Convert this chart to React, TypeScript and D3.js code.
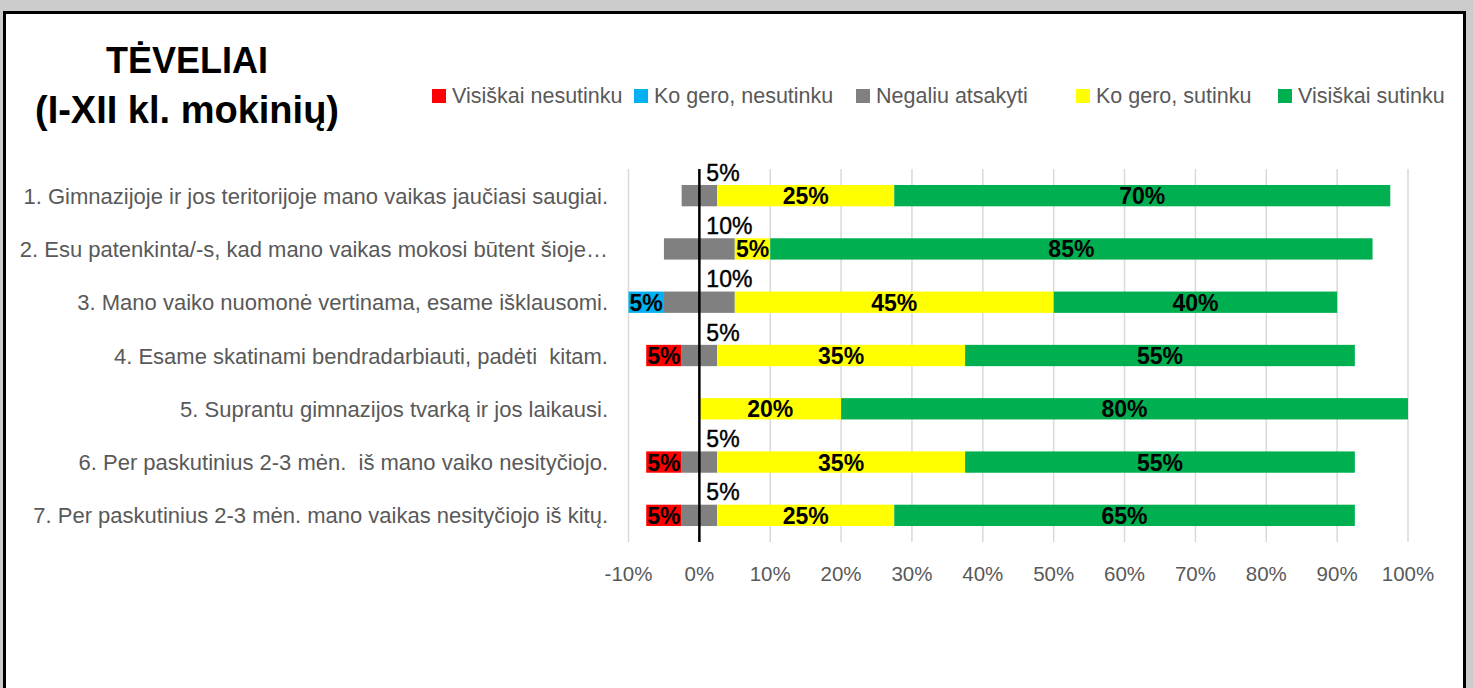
import React from "react";
import * as d3 from "d3";

const categories = [
  "1. Gimnazijoje ir jos teritorijoje mano vaikas jaučiasi saugiai.",
  "2. Esu patenkinta/-s, kad mano vaikas mokosi būtent šioje…",
  "3. Mano vaiko nuomonė vertinama, esame išklausomi.",
  "4. Esame skatinami bendradarbiauti, padėti  kitam.",
  "5. Suprantu gimnazijos tvarką ir jos laikausi.",
  "6. Per paskutinius 2-3 mėn.  iš mano vaiko nesityčiojo.",
  "7. Per paskutinius 2-3 mėn. mano vaikas nesityčiojo iš kitų.",
];

const seriesNames = [
  "Visiškai nesutinku",
  "Ko gero, nesutinku",
  "Negaliu atsakyti",
  "Ko gero, sutinku",
  "Visiškai sutinku",
];

const visiskaiNesutinku = [0, 0, 0, 5, 0, 5, 5];
const koGeroNesutinku = [0, 0, 5, 0, 0, 0, 0];
const negaliuAtsakyti = [5, 10, 10, 5, 0, 5, 5];
const koGeroSutinku = [25, 5, 45, 35, 20, 35, 25];
const visiskaiSutinku = [70, 85, 40, 55, 80, 55, 65];

const tickValues = [-10, 0, 10, 20, 30, 40, 50, 60, 70, 80, 90, 100];
const tickLabels = tickValues.map((v) => `${v}%`);

const colors = ["#FF0000", "#00B0F0", "#808080", "#FFFF00", "#00B050"];
const legendX = [432, 634, 856, 1076, 1278];

const W = 1473;
const H = 688;
const FONT = "'Liberation Sans', Arial, sans-serif";

export default function App() {
  const x = d3.scaleLinear().domain([-10, 100]).range([628.5, 1408]);
  const y = d3
    .scaleBand<string>()
    .domain(categories)
    .range([169, 542])
    .paddingInner(0.6)
    .paddingOuter(0.3);
  const bw = y.bandwidth();

  const allSeries = [
    visiskaiNesutinku,
    koGeroNesutinku,
    negaliuAtsakyti,
    koGeroSutinku,
    visiskaiSutinku,
  ];

  const rows = categories.map((cat, i) => {
    const vals = allSeries.map((s) => s[i]);
    let start = -(vals[0] + vals[1] + vals[2] / 2);
    const segs = vals.map((v, k) => {
      const s = { k, v, x0: start, x1: start + v };
      start += v;
      return s;
    });
    return { cat, segs };
  });

  return (
    <svg
      width={W}
      height={H}
      style={{ position: "absolute", left: 0, top: 0 }}
      fontFamily={FONT}
    >
      <rect x={0} y={0} width={W} height={H} fill="#cccccc" />
      <rect
        x={4.5}
        y={12.5}
        width={1460}
        height={H + 20}
        fill="#ffffff"
        stroke="#000"
        strokeWidth={3}
      />

      {/* Title */}
      <text x={187} y={73} textAnchor="middle" fontSize={36} fontWeight="bold" fill="#000">
        TĖVELIAI
      </text>
      <text x={187} y={123} textAnchor="middle" fontSize={38} fontWeight="bold" fill="#000">
        (I-XII kl. mokinių)
      </text>

      {/* Legend */}
      {seriesNames.map((n, k) => (
        <g key={n}>
          <rect x={legendX[k]} y={89} width={14} height={14} fill={colors[k]} />
          <text x={legendX[k] + 20} y={103} fontSize={21.5} fill="#595959">
            {n}
          </text>
        </g>
      ))}

      {/* Gridlines */}
      {tickValues.map((t) => (
        <line
          key={t}
          x1={x(t)}
          x2={x(t)}
          y1={169}
          y2={542}
          stroke="#d9d9d9"
          strokeWidth={1.5}
        />
      ))}

      {/* Tick labels */}
      {tickValues.map((t, i) => (
        <text
          key={t}
          x={x(t)}
          y={581}
          textAnchor="middle"
          fontSize={20.5}
          fill="#595959"
        >
          {tickLabels[i]}
        </text>
      ))}

      {/* Category labels */}
      {categories.map((c) => (
        <text
          key={c}
          x={608}
          y={(y(c) as number) + bw / 2 + 8}
          textAnchor="end"
          fontSize={22}
          fill="#595959"
          style={{ whiteSpace: "pre" }}
        >
          {c}
        </text>
      ))}

      {/* Bars */}
      {rows.map((r) =>
        r.segs
          .filter((s) => s.v > 0)
          .map((s) => (
            <rect
              key={r.cat + s.k}
              x={x(s.x0)}
              y={y(r.cat)}
              width={x(s.x1) - x(s.x0)}
              height={bw}
              fill={colors[s.k]}
            />
          ))
      )}

      {/* Zero line */}
      <line x1={x(0)} x2={x(0)} y1={169} y2={542} stroke="#000" strokeWidth={2.5} />

      {/* Data labels */}
      {rows.map((r) =>
        r.segs
          .filter((s) => s.v > 0)
          .map((s) => {
            const cy = (y(r.cat) as number) + bw / 2;
            if (s.k === 2) {
              return (
                <text
                  key={"l" + r.cat + s.k}
                  x={x(0) + 7}
                  y={cy - 23 + 8}
                  fontSize={23}
                  fill="#000"
                  stroke="#000"
                  strokeWidth={0.4}
                >
                  {`${s.v}%`}
                </text>
              );
            }
            return (
              <text
                key={"l" + r.cat + s.k}
                x={(x(s.x0) + x(s.x1)) / 2}
                y={cy + 8.5}
                textAnchor="middle"
                fontSize={23}
                fontWeight="bold"
                fill="#000"
              >
                {`${s.v}%`}
              </text>
            );
          })
      )}
    </svg>
  );
}
